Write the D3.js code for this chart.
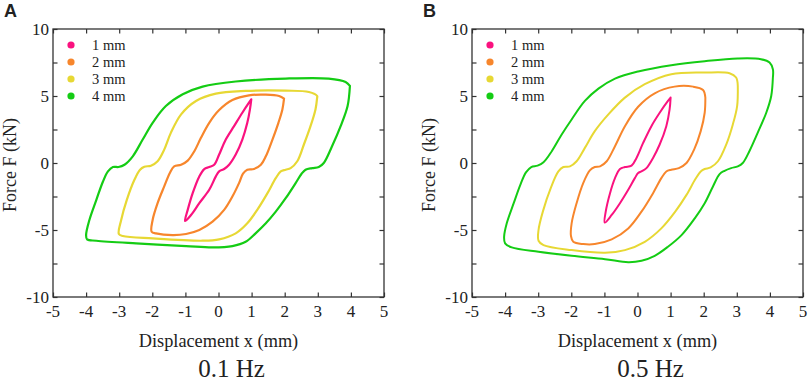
<!DOCTYPE html>
<html>
<head>
<meta charset="utf-8">
<script src="https://cdn.jsdelivr.net/npm/d3@7"></script>
<style>
  html, body { margin: 0; padding: 0; background: #fff; }
  svg { display: block; }
  text { font-family: "Liberation Serif", "Times New Roman", serif; fill: #222; }
</style>
</head>
<body>
<svg id="chart" width="809" height="381"></svg>
<script>
// ---------- data ----------
const seriesNames = ["1 mm", "2 mm", "3 mm", "4 mm"];
const seriesColors = ["#fa127f", "#f7862c", "#e7d834", "#14cc14"];
const panelLetters = ["A", "B"];
const panelTitles = ["0.1 Hz", "0.5 Hz"];
const xTickValues = [-5, -4, -3, -2, -1, 0, 1, 2, 3, 4, 5];
const yTickValues = [-10, -7.5, -5, -2.5, 0, 2.5, 5, 7.5, 10];
const yTickLabels = [-10, -5, 0, 5, 10];
const xLabel = "Displacement x (mm)";
const yLabel = "Force F (kN)";

// Panel A (0.1 Hz) loops, [displacement mm, force kN]
const loopA1 = [[0.99,4.75],[0.95,4.0],[0.87,3.0],[0.72,1.75],[0.52,0.63],[0.32,-0.13],[0.17,-0.45],[0.02,-0.63],[-0.08,-1.0],[-0.28,-2.0],[-0.58,-3.0],[-0.83,-3.88],[-1.01,-4.33],
  [-0.93,-3.5],[-0.78,-2.25],[-0.58,-1.0],[-0.43,-0.45],[-0.28,-0.3],[-0.13,-0.13],[0.02,0.63],[0.22,1.75],[0.47,2.75],[0.72,3.75],[0.92,4.5],[0.99,4.75]];
const loopA2 = [[1.98,4.8],[1.93,4.0],[1.81,3.0],[1.63,1.75],[1.43,0.5],[1.28,-0.13],[1.07,-0.45],[0.87,-0.5],[0.74,-0.8],[0.62,-1.5],[0.42,-2.5],[0.17,-3.5],[-0.18,-4.38],[-0.58,-5.0],[-0.98,-5.3],[-1.39,-5.38],[-1.89,-5.25],[-2.02,-5.13],
  [-1.99,-4.25],[-1.84,-3.0],[-1.64,-1.75],[-1.47,-0.75],[-1.34,-0.25],[-1.13,-0.13],[-0.93,0.18],[-0.73,0.88],[-0.53,1.88],[-0.28,3.0],[0.02,3.95],[0.42,4.7],[0.92,5.05],[1.43,5.1],[1.83,5.0],[1.98,4.8]];
const loopA3 = [[2.98,4.88],[2.93,4.0],[2.78,2.75],[2.58,1.38],[2.38,0.13],[2.18,-0.38],[2.03,-0.5],[1.88,-0.63],[1.73,-1.13],[1.48,-2.25],[1.17,-3.5],[0.87,-4.5],[0.52,-5.25],[0.02,-5.7],[-0.48,-5.8],[-1.99,-5.63],[-2.89,-5.45],[-3.01,-5.3],
  [-2.94,-4.25],[-2.77,-2.75],[-2.54,-1.25],[-2.37,-0.5],[-2.24,-0.28],[-2.04,-0.2],[-1.84,0.13],[-1.64,1.0],[-1.44,2.25],[-1.13,3.63],[-0.68,4.63],[-0.08,5.18],[0.82,5.38],[2.03,5.4],[2.73,5.3],[2.98,5.0],[2.98,4.88]];
const loopA4 = [[3.97,5.75],[3.90,4.25],[3.69,2.75],[3.43,1.25],[3.18,0.0],[3.03,-0.3],[2.83,-0.38],[2.63,-0.5],[2.51,-0.8],[2.33,-1.5],[2.03,-2.63],[1.73,-3.63],[1.43,-4.5],[1.12,-5.25],[0.82,-5.88],[0.42,-6.2],[-0.18,-6.3],[-0.98,-6.2],[-2.49,-6.0],[-3.69,-5.8],[-3.97,-5.7],[-4.0,-5.38],
  [-3.90,-4.25],[-3.69,-2.75],[-3.49,-1.38],[-3.34,-0.63],[-3.19,-0.3],[-3.02,-0.3],[-2.84,-0.13],[-2.59,0.5],[-2.29,1.75],[-1.99,3.0],[-1.59,4.25],[-1.08,5.13],[-0.48,5.7],[0.52,6.08],[2.03,6.3],[3.33,6.3],[3.84,6.05],[3.97,5.75]];

// Panel B (0.5 Hz) loops
const loopB1 = [[1.0,4.88],[0.97,4.0],[0.87,2.75],[0.67,1.38],[0.47,0.38],[0.27,-0.38],[0.12,-0.63],[0.02,-0.75],[-0.08,-1.13],[-0.28,-2.0],[-0.53,-3.0],[-0.78,-3.88],[-0.99,-4.45],
  [-0.96,-3.63],[-0.83,-2.25],[-0.68,-1.13],[-0.53,-0.45],[-0.38,-0.3],[-0.18,-0.2],[-0.03,0.38],[0.17,1.5],[0.42,2.75],[0.67,3.75],[0.92,4.63],[1.0,4.88]];
const loopB2 = [[2.05,4.88],[2.03,3.75],[1.91,2.38],[1.71,1.0],[1.48,0.0],[1.25,-0.38],[1.02,-0.5],[0.87,-0.63],[0.72,-1.13],[0.47,-2.25],[0.12,-3.63],[-0.28,-4.88],[-0.78,-5.7],[-1.29,-6.05],[-1.64,-6.05],[-1.94,-5.88],[-2.01,-5.45],
  [-1.99,-4.5],[-1.84,-3.0],[-1.64,-1.5],[-1.44,-0.55],[-1.29,-0.3],[-1.13,-0.25],[-0.93,0.13],[-0.68,1.25],[-0.38,2.75],[0.02,4.2],[0.52,5.2],[1.12,5.7],[1.68,5.7],[1.98,5.45],[2.05,4.88]];
const loopB3 = [[3.03,5.75],[3.01,4.25],[2.88,2.88],[2.68,1.38],[2.43,0.13],[2.21,-0.33],[2.03,-0.45],[1.91,-0.63],[1.75,-1.2],[1.48,-2.38],[1.14,-3.63],[0.72,-4.88],[0.22,-5.88],[-0.38,-6.5],[-0.98,-6.7],[-1.99,-6.5],[-2.84,-6.13],[-2.99,-5.8],
  [-2.99,-5.0],[-2.86,-3.63],[-2.61,-1.8],[-2.39,-0.63],[-2.24,-0.3],[-2.04,-0.25],[-1.84,0.13],[-1.59,1.13],[-1.29,2.38],[-0.88,3.63],[-0.38,4.88],[0.22,5.88],[1.02,6.63],[2.03,6.75],[2.78,6.7],[2.98,6.38],[3.03,5.75]];
const loopB4 = [[4.09,6.38],[4.04,5.0],[3.89,3.75],[3.63,2.25],[3.38,0.88],[3.18,0.0],[3.03,-0.25],[2.83,-0.38],[2.63,-0.58],[2.48,-0.83],[2.28,-1.75],[2.03,-3.0],[1.73,-4.13],[1.33,-5.38],[0.92,-6.25],[0.52,-6.93],[0.12,-7.3],[-0.28,-7.4],[-0.98,-7.18],[-1.99,-6.93],[-2.99,-6.63],[-3.8,-6.3],[-4.0,-6.0],[-4.03,-5.5],
  [-3.95,-4.5],[-3.74,-3.0],[-3.54,-1.63],[-3.37,-0.7],[-3.21,-0.3],[-3.02,-0.2],[-2.84,0.05],[-2.59,0.88],[-2.29,2.13],[-1.99,3.25],[-1.59,4.63],[-1.18,5.55],[-0.68,6.3],[0.02,6.83],[1.02,7.3],[2.03,7.6],[3.03,7.8],[3.73,7.75],[3.99,7.5],[4.09,7.0],[4.09,6.38]];

const panelLoops = [[loopA1, loopA2, loopA3, loopA4], [loopB1, loopB2, loopB3, loopB4]];

// ---------- layout ----------
const panels = [
  { left: 53, right: 384, top: 29, bottom: 297, lw: 2.2 },
  { left: 472, right: 803, top: 29, bottom: 297, lw: 2.0 }
];

const svg = d3.select("#chart");

panels.forEach((p, pi) => {
  const x = d3.scaleLinear().domain([-5, 5]).range([p.left, p.right]);
  const y = d3.scaleLinear().domain([-10, 10]).range([p.bottom, p.top]);
  const g = svg.append("g");
  const tickLen = 4.5;

  // loops
  const line = d3.line().x(d => x(d[0])).y(d => y(d[1])).curve(d3.curveCatmullRom.alpha(0.5));
  panelLoops[pi].forEach((loop, si) => {
    g.append("path").attr("d", line(loop)).attr("fill", "none")
      .attr("stroke", seriesColors[si]).attr("stroke-width", p.lw)
      .attr("stroke-linejoin", "round").attr("stroke-linecap", "round");
  });

  // axes (ticks inward, all four sides)
  const axB = d3.axisBottom(x).tickValues(xTickValues).tickSizeInner(-tickLen).tickSizeOuter(0).tickFormat("");
  const axT = d3.axisTop(x).tickValues(xTickValues).tickSizeInner(-tickLen).tickSizeOuter(0).tickFormat("");
  const axL = d3.axisLeft(y).tickValues(yTickValues).tickSizeInner(-tickLen).tickSizeOuter(0).tickFormat("");
  const axR = d3.axisRight(y).tickValues(yTickValues).tickSizeInner(-tickLen).tickSizeOuter(0).tickFormat("");
  g.append("g").attr("transform", `translate(0,${p.bottom})`).call(axB);
  g.append("g").attr("transform", `translate(0,${p.top})`).call(axT);
  g.append("g").attr("transform", `translate(${p.left},0)`).call(axL);
  g.append("g").attr("transform", `translate(${p.right},0)`).call(axR);
  g.selectAll(".domain").remove();
  g.selectAll(".tick line").attr("stroke", "#333").attr("stroke-width", 1.2);
  g.append("rect").attr("x", p.left).attr("y", p.top)
    .attr("width", p.right - p.left).attr("height", p.bottom - p.top)
    .attr("fill", "none").attr("stroke", "#333").attr("stroke-width", 1.3);

  // tick labels
  g.selectAll(".xl").data(xTickValues).enter().append("text")
    .attr("x", d => x(d)).attr("y", p.bottom + 20)
    .attr("text-anchor", "middle").attr("font-size", 17).text(d => d);
  g.selectAll(".yl").data(yTickLabels).enter().append("text")
    .attr("x", p.left - 4).attr("y", d => y(d) + 6)
    .attr("text-anchor", "end").attr("font-size", 17).text(d => d);

  // axis titles
  g.append("text").attr("x", (p.left + p.right) / 2).attr("y", 347)
    .attr("text-anchor", "middle").attr("font-size", 18.3).text(xLabel);
  g.append("text").attr("transform", `translate(${p.left - 37},${(p.top + p.bottom) / 2 + 2}) rotate(-90)`)
    .attr("text-anchor", "middle").attr("font-size", 18).text(yLabel);

  // subtitle
  g.append("text").attr("x", (p.left + p.right) / 2 + 13).attr("y", 377)
    .attr("text-anchor", "middle").attr("font-size", 25).text(panelTitles[pi]);

  // panel letter
  g.append("text").attr("x", p.left - 49).attr("y", 17)
    .style("font-family", "'Liberation Sans', Arial, sans-serif").attr("font-weight", "bold")
    .attr("font-size", 18).attr("fill", "#000").text(panelLetters[pi]);

  // legend
  seriesNames.forEach((name, si) => {
    const ly = 45 + si * 17;
    g.append("circle").attr("cx", p.left + 18).attr("cy", ly).attr("r", 3.6).attr("fill", seriesColors[si]);
    g.append("text").attr("x", p.left + 39).attr("y", ly + 5).attr("font-size", 14.5).text(name);
  });
});
</script>
</body>
</html>
